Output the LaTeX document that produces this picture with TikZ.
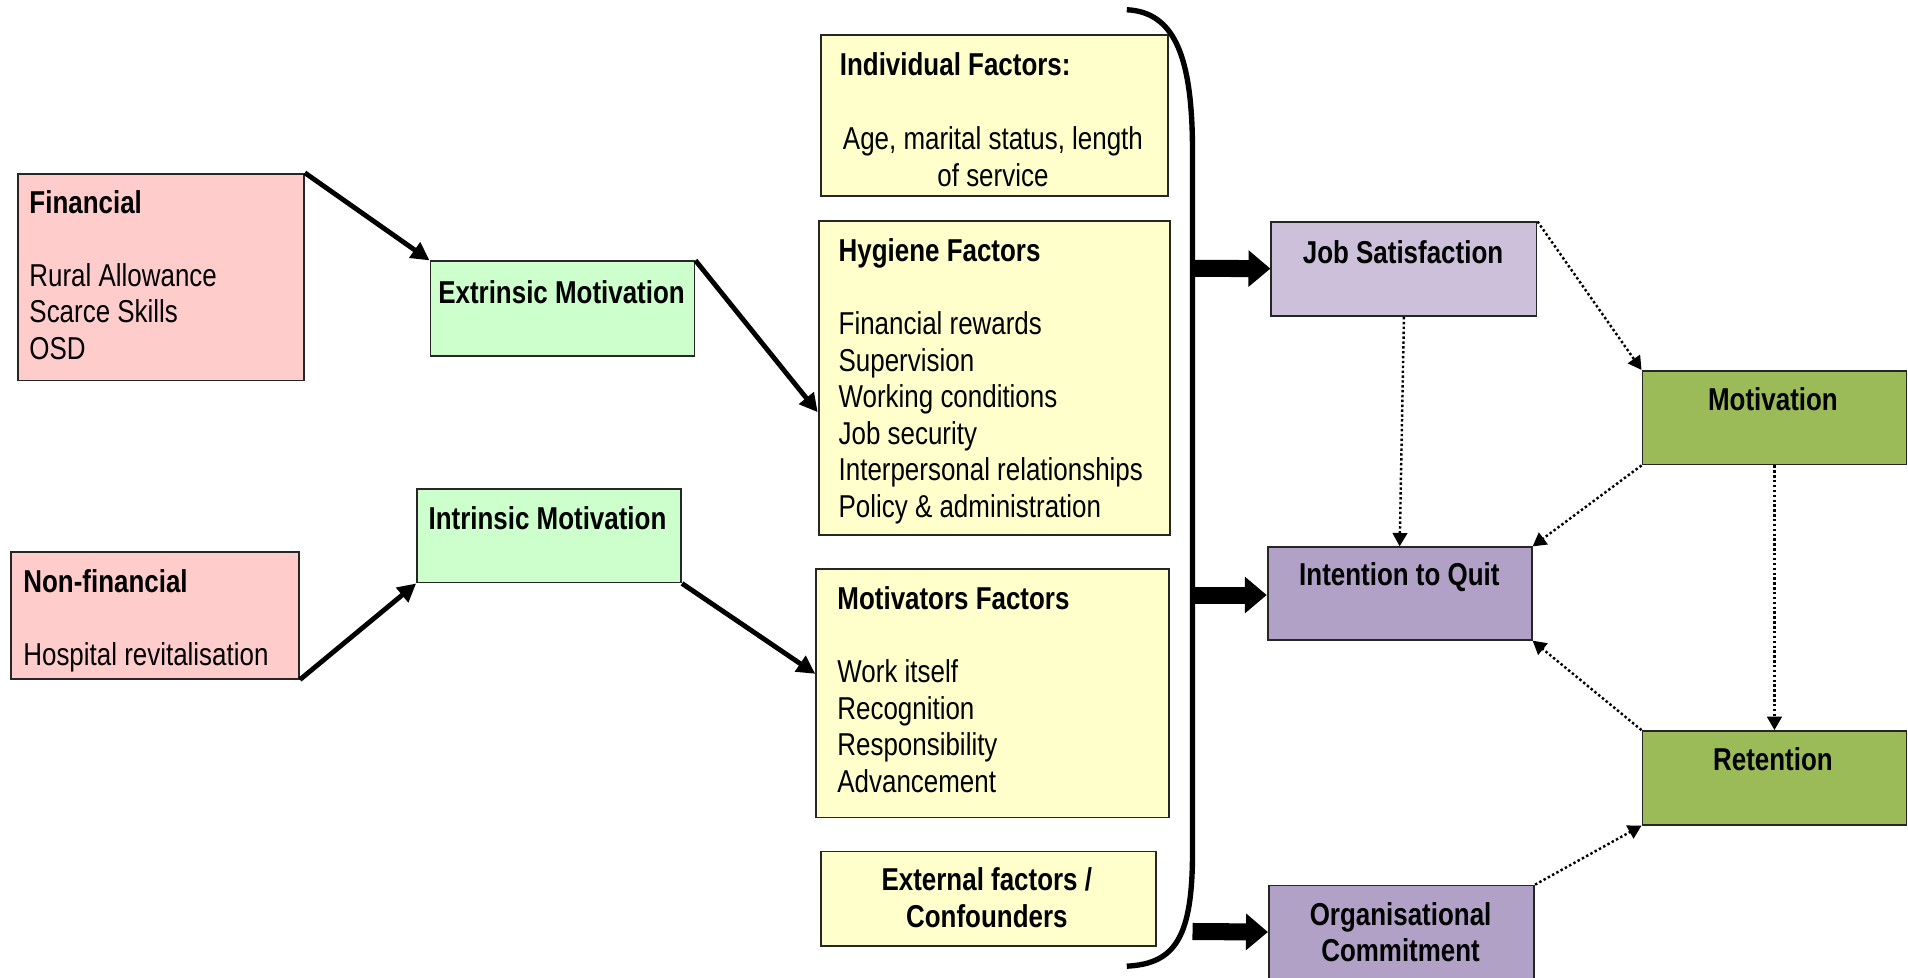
\documentclass[tikz,border=0pt]{standalone}
\usepackage{fontspec}
\setmainfont{Liberation Sans}[FakeStretch=0.82]
\usetikzlibrary{arrows.meta,calc}

\definecolor{pinkfill}{HTML}{FFCCCC}
\definecolor{mintfill}{HTML}{CCFFCC}
\definecolor{creamfill}{HTML}{FFFFCC}
\definecolor{lilacfill}{HTML}{CCC0DA}
\definecolor{purplefill}{HTML}{B2A1C7}
\definecolor{olivefill}{HTML}{9BBB59}

\begin{document}
\begin{tikzpicture}[x=1pt,y=-1pt,
  every node/.style={font=\fontsize{26}{30}\selectfont},
  box/.style={draw=black!85,line width=1.5pt,anchor=north west,inner sep=0pt},
  txt/.style={anchor=north west,inner sep=0pt,align=left},
  ctxt/.style={anchor=north,inner sep=0pt,align=center,font=\fontsize{26}{30}\selectfont\bfseries},
  solidarrow/.style={line width=4pt,-{Triangle[width=15pt,length=15pt]}},
  fatarrow/.style={line width=14pt,-{Triangle[width=29pt,length=18pt]}},
  dotarrow/.style={line width=2pt,dash pattern=on 2pt off 2pt,-{Triangle[width=12pt,length=11pt]}}]

\useasboundingbox (0,0) rectangle (1568,803);

% left column: incentive types
\node[box,fill=pinkfill,minimum width=235pt,minimum height=170pt] (fin) at (14,142) {};
\node[txt] (fintxt) at (24,154) {\strut\textbf{Financial}\\[30pt]Rural Allowance\\Scarce Skills\\OSD};
\node[box,fill=pinkfill,minimum width=237pt,minimum height=104pt] (nonfin) at (8,453) {};
\node[txt] (nonfintxt) at (19,466) {\strut\textbf{Non-financial}\\[30pt]Hospital revitalisation};

% motivation types
\node[box,fill=mintfill,minimum width=217pt,minimum height=78pt] (ext) at (353,214) {};
\node[txt] (exttxt) at (360,228) {\strut\textbf{Extrinsic Motivation}};
\node[box,fill=mintfill,minimum width=217pt,minimum height=77pt] (intr) at (342,401) {};
\node[txt] (intrtxt) at (352,414) {\strut\textbf{Intrinsic Motivation}};

% factor boxes
\node[box,fill=creamfill,minimum width=285pt,minimum height=132pt] (indiv) at (674,28) {};
\node[txt] (indivtitle) at (690,41) {\strut\textbf{Individual Factors:}};
\node[anchor=north,inner sep=0pt,align=center] (indivtxt) at (816,102) {\strut Age, marital status, length\\of service};

\node[box,fill=creamfill,minimum width=289pt,minimum height=258pt] (hyg) at (672,181) {};
\node[txt] (hygtxt) at (689,194) {\strut\textbf{Hygiene Factors}\\[30pt]Financial rewards\\Supervision\\Working conditions\\Job security\\Interpersonal relationships\\Policy \& administration};

\node[box,fill=creamfill,minimum width=290pt,minimum height=204pt] (motf) at (670,467) {};
\node[txt] (motftxt) at (688,480) {\strut\textbf{Motivators Factors}\\[30pt]Work itself\\Recognition\\Responsibility\\Advancement};

\node[box,fill=creamfill,minimum width=275pt,minimum height=78pt] (extf) at (674,699) {};
\node[ctxt] (extftxt) at (811,711) {\strut External factors /\\Confounders};

% outcome boxes
\node[box,fill=lilacfill,minimum width=218pt,minimum height=77pt] (js) at (1044,182) {};
\node[ctxt] (jstxt) at (1153,195) {\strut Job Satisfaction};
\node[box,fill=purplefill,minimum width=217pt,minimum height=76pt] (itq) at (1041,449) {};
\node[ctxt] (itqtxt) at (1150,460) {\strut Intention to Quit};
\node[box,fill=purplefill,minimum width=218pt,minimum height=78pt] (oc) at (1042,727) {};
\node[ctxt] (octxt) at (1151,739) {\strut Organisational\\Commitment};
\node[box,fill=olivefill,minimum width=217pt,minimum height=77pt] (mot) at (1349,304) {};
\node[ctxt] (mottxt) at (1457,316) {\strut Motivation};
\node[box,fill=olivefill,minimum width=217pt,minimum height=77pt] (ret) at (1349,600) {};
\node[ctxt] (rettxt) at (1457,612) {\strut Retention};

% grouping bracket
\draw[line width=4.4pt] (926,8) .. controls (966,10) and (980,48) .. (980,125)
  -- (980,700) .. controls (980,770) and (966,792) .. (926,794);
\coordinate (b1) at (980,220.5);
\coordinate (b2) at (980,489);
\coordinate (b3) at (980,765.5);

% influences of the factor groups
\draw[fatarrow] (b1) -- (js);
\draw[fatarrow] (b2) -- (itq.west |- b2);
\draw[fatarrow] (b3) -- (oc);

% incentive paths
\draw[solidarrow] (fin.north east) -- (ext.north west);
\draw[solidarrow] (ext.north east) -- ([yshift=-28pt]hyg.west);
\draw[solidarrow] (nonfin.south east) -- (intr.south west);
\draw[solidarrow] (intr.south east) -- ([yshift=16pt]motf.west);

% relations between outcomes
\draw[dotarrow] (js.north east) -- (mot.north west);
\draw[dotarrow] (js.south) -- (itq.north);
\draw[dotarrow] (mot.south west) -- (itq.north east);
\draw[dotarrow] (mot.south) -- (ret.north);
\draw[dotarrow] (ret.north west) -- (itq.south east);
\draw[dotarrow] (oc.north east) -- (ret.south west);
\end{tikzpicture}
\end{document}
